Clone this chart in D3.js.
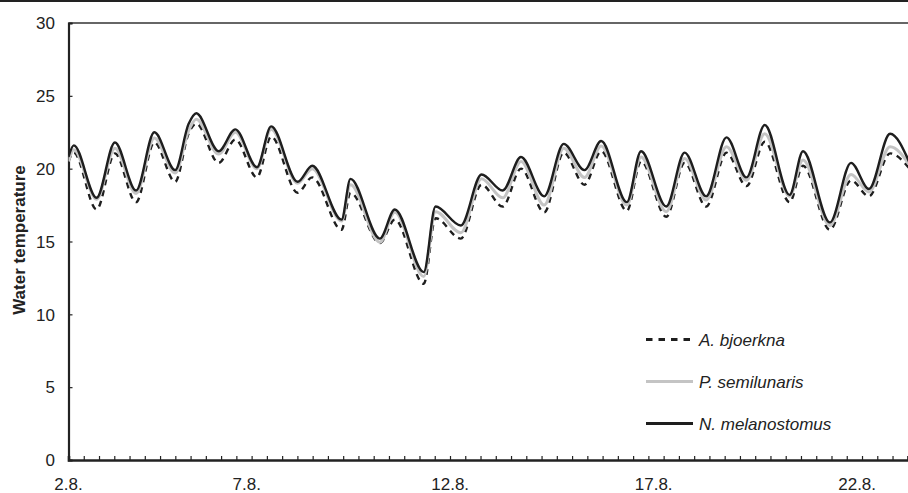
<!DOCTYPE html>
<html>
<head>
<meta charset="utf-8">
<script src="https://cdn.jsdelivr.net/npm/d3@7"></script>
<style>
  html, body { margin: 0; padding: 0; background: #fff; }
  svg { display: block; font-family: "Liberation Sans", Arial, sans-serif; }
</style>
</head>
<body>
<div id="chart"></div>
<script>
// time in days of August (decimal) at the daily highs / lows
const times = [2.62, 2.75, 3.31, 3.76, 4.28, 4.73, 5.24, 5.57, 5.76, 6.31, 6.72, 7.25, 7.60, 8.25, 8.61,
    9.33, 9.55, 10.27, 10.64, 11.35, 11.64, 12.26, 12.77, 13.29, 13.74, 14.31, 14.79, 15.30, 15.71,
    16.34, 16.69, 17.31, 17.76, 18.29, 18.79, 19.28, 19.73, 20.34, 20.67, 21.33, 21.85, 22.29, 22.81, 23.29];

const bjoerkna = [20.5, 21.1, 17.2, 21.05, 17.7, 21.8, 19.1, 22.4, 23.1, 20.4, 22.0, 19.4, 22.2, 18.35, 19.4,
    15.8, 18.35, 14.9, 16.5, 12.1, 16.6, 15.2, 18.9, 17.4, 20.0, 17.0, 21.1, 18.9, 21.2,
    17.1, 20.5, 16.7, 20.4, 17.4, 21.1, 18.8, 21.85, 17.7, 20.2, 15.8, 19.2, 18.1, 21.05, 20.0];

const semilunaris = [20.5, 21.3, 17.9, 21.4, 18.3, 22.1, 19.7, 22.6, 23.4, 21.0, 22.5, 20.0, 22.7, 19.0, 20.0,
    16.4, 18.9, 14.95, 17.0, 12.6, 17.05, 15.6, 19.3, 18.0, 20.5, 17.5, 21.4, 19.4, 21.55,
    17.5, 20.8, 17.05, 20.7, 17.85, 21.5, 19.2, 22.4, 18.1, 20.6, 16.1, 19.6, 18.4, 21.5, 20.25];

const melanostomus = [20.8, 21.6, 18.0, 21.8, 18.5, 22.5, 19.9, 23.06, 23.8, 21.2, 22.7, 20.1, 22.9, 19.1, 20.2,
    16.5, 19.3, 15.2, 17.2, 12.9, 17.4, 16.1, 19.6, 18.5, 20.8, 18.1, 21.7, 19.9, 21.9,
    17.7, 21.2, 17.4, 21.1, 18.1, 22.15, 19.4, 23.0, 18.2, 21.2, 16.3, 20.4, 18.6, 22.4, 20.4];

const seriesNames = ["A. bjoerkna", "P. semilunaris", "N. melanostomus"];
const xTickValues = [2.62, 7, 12, 17, 22];
const xTickLabels = ["2.8.", "7.8.", "12.8.", "17.8.", "22.8."];
const yTickValues = [0, 5, 10, 15, 20, 25, 30];

const width = 908, height = 493;
const margin = { top: 23, right: 0, bottom: 33, left: 68.5 };

const svg = d3.select("#chart").append("svg")
    .attr("width", width)
    .attr("height", height);

const x = d3.scaleLinear()
    .domain([2.62, 23.25])
    .range([margin.left, width - margin.right]);

const y = d3.scaleLinear()
    .domain([0, 30])
    .range([height - margin.bottom, margin.top]);

// figure border line at the very top
svg.append("line")
    .attr("x1", 0).attr("x2", width)
    .attr("y1", 1).attr("y2", 1)
    .attr("stroke", "#222").attr("stroke-width", 2);

// top frame of the plot
svg.append("line")
    .attr("x1", margin.left).attr("x2", width)
    .attr("y1", y(30)).attr("y2", y(30))
    .attr("stroke", "#333").attr("stroke-width", 1.6);

// y axis (ticks point inward)
const yAxis = svg.append("g")
    .attr("transform", `translate(${margin.left},0)`)
    .call(d3.axisRight(y).tickValues(yTickValues).tickSize(4).tickFormat(""));
yAxis.select(".domain").attr("stroke", "#222").attr("stroke-width", 2.2);
yAxis.selectAll(".tick line").attr("stroke", "#222").attr("stroke-width", 1.2);

svg.append("g").selectAll("text")
    .data(yTickValues)
    .join("text")
    .attr("x", 55)
    .attr("y", d => y(d))
    .attr("dy", "0.37em")
    .attr("text-anchor", "end")
    .attr("font-size", "17px")
    .attr("fill", "#222")
    .text(d => d);

// x axis with minor ticks every 9 hours
const minorTicks = d3.range(2.62, 23.3, 0.375);
const xAxis = svg.append("g")
    .attr("transform", `translate(0,${y(0)})`)
    .call(d3.axisTop(x).tickValues(minorTicks).tickSize(4).tickFormat(""));
xAxis.select(".domain").attr("stroke", "#222").attr("stroke-width", 2.6);
xAxis.selectAll(".tick line").attr("stroke", "#222").attr("stroke-width", 1.2);

svg.append("g").selectAll("text")
    .data(xTickValues)
    .join("text")
    .attr("x", d => x(d))
    .attr("y", 490)
    .attr("text-anchor", "middle")
    .attr("font-size", "17px")
    .attr("fill", "#222")
    .text((d, i) => xTickLabels[i]);

// axis title
svg.append("text")
    .attr("transform", "translate(25,240) rotate(-90)")
    .attr("text-anchor", "middle")
    .attr("font-size", "17px")
    .attr("font-weight", "bold")
    .attr("fill", "#222")
    .text("Water temperature");

// lines
const styles = [
    { stroke: "#1e1e1e", width: 2.4, dash: "6,5" },
    { stroke: "#c4c4c4", width: 3, dash: null },
    { stroke: "#1e1e1e", width: 2.4, dash: null }
];
const values = [bjoerkna, semilunaris, melanostomus];

const line = d3.line()
    .x(d => x(d[0]))
    .y(d => y(d[1]))
    .curve(d3.curveMonotoneX);

svg.append("defs").append("clipPath").attr("id", "plotclip")
    .append("rect")
    .attr("x", margin.left).attr("y", margin.top)
    .attr("width", width - margin.left).attr("height", y(0) - margin.top);

const plot = svg.append("g").attr("clip-path", "url(#plotclip)");
values.forEach(function (vals, i) {
    plot.append("path")
        .datum(times.map((t, j) => [t, vals[j]]))
        .attr("d", line)
        .attr("fill", "none")
        .attr("stroke", styles[i].stroke)
        .attr("stroke-width", styles[i].width)
        .attr("stroke-dasharray", styles[i].dash)
        .attr("stroke-linejoin", "round");
});

// legend
const legendY = [339.5, 381.5, 423.5];
const legend = svg.append("g");
seriesNames.forEach(function (name, i) {
    legend.append("line")
        .attr("x1", 646).attr("x2", 693)
        .attr("y1", legendY[i]).attr("y2", legendY[i])
        .attr("stroke", styles[i].stroke)
        .attr("stroke-width", i === 1 ? 3.2 : 2.8)
        .attr("stroke-dasharray", i === 0 ? "6.5,6" : null);
    legend.append("text")
        .attr("x", 699)
        .attr("y", legendY[i] + 6)
        .attr("font-size", "17px")
        .attr("font-style", "italic")
        .attr("fill", "#222")
        .text(name);
});
</script>
</body>
</html>
